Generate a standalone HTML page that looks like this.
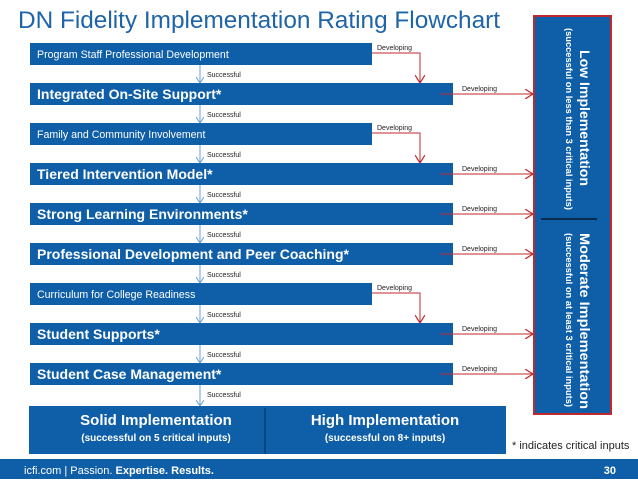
<!DOCTYPE html>
<html><head><meta charset="utf-8"><style>
body{margin:0;width:638px;height:479px;overflow:hidden;background:#fff;font-family:"Liberation Sans",sans-serif}
</style></head><body>
<svg width="638" height="479" viewBox="0 0 638 479" xmlns="http://www.w3.org/2000/svg" font-family="Liberation Sans, sans-serif">
<defs>
<marker id="ab" markerWidth="8" markerHeight="8" refX="6" refY="4" orient="auto" markerUnits="userSpaceOnUse"><path d="M0,0 L6,4 L0,8" fill="none" stroke="#6a9fd4" stroke-width="1"/></marker>
<marker id="ar" markerWidth="10" markerHeight="10" refX="8" refY="5" orient="auto" markerUnits="userSpaceOnUse"><path d="M0,0 L8,5 L0,10" fill="none" stroke="#c0282e" stroke-width="1.2"/></marker>
</defs>
<text x="18" y="28" font-size="24" fill="#1e64a8" textLength="482" lengthAdjust="spacingAndGlyphs">DN Fidelity Implementation Rating Flowchart</text>

<rect x="534" y="16" width="77" height="398" fill="#0f5ea8" stroke="#c0282e" stroke-width="2"/>
<line x1="541" y1="219" x2="597" y2="219" stroke="#0a1a30" stroke-width="1.5"/>
<text transform="translate(580,50) rotate(90)" font-size="14" font-weight="bold" fill="#fff" textLength="136" lengthAdjust="spacingAndGlyphs">Low Implementation</text>
<text transform="translate(566,28) rotate(90)" font-size="9.5" font-weight="bold" fill="#fff" textLength="182" lengthAdjust="spacingAndGlyphs">(successful on less than 3 critical inputs)</text>
<text transform="translate(580,233) rotate(90)" font-size="14" font-weight="bold" fill="#fff" textLength="176" lengthAdjust="spacingAndGlyphs">Moderate Implementation</text>
<text transform="translate(566,233) rotate(90)" font-size="9.5" font-weight="bold" fill="#fff" textLength="174" lengthAdjust="spacingAndGlyphs">(successful on at least 3 critical inputs)</text>

<g id="rows"></g>

<rect x="29" y="406" width="477" height="48" fill="#0f5ea8"/>
<line x1="265" y1="408" x2="265" y2="454" stroke="#0a2a50" stroke-width="1"/>
<text x="156" y="425" text-anchor="middle" font-size="15" font-weight="bold" fill="#fff">Solid Implementation</text>
<text x="156" y="441" text-anchor="middle" font-size="10" font-weight="bold" fill="#fff">(successful on 5 critical inputs)</text>
<text x="385" y="425" text-anchor="middle" font-size="15" font-weight="bold" fill="#fff">High Implementation</text>
<text x="385" y="441" text-anchor="middle" font-size="10" font-weight="bold" fill="#fff">(successful on 8+ inputs)</text>
<text x="512" y="449" font-size="11" fill="#222">* indicates critical inputs</text>

<rect x="0" y="459" width="638" height="20" fill="#0f5ea8"/>
<text x="24" y="474" font-size="11" fill="#fff">icfi.com | Passion. <tspan font-weight="bold">Expertise.</tspan> <tspan font-weight="bold">Results.</tspan></text>
<text x="616" y="474" text-anchor="end" font-size="11" font-weight="bold" fill="#fff">30</text>
</svg>
<script>
const labels=["Program Staff Professional Development","Integrated On-Site Support*","Family and Community Involvement","Tiered Intervention Model*","Strong Learning Environments*","Professional Development and Peer Coaching*","Curriculum for College Readiness","Student Supports*","Student Case Management*"];
const critical=[0,1,0,1,1,1,0,1,1];
const g=document.getElementById('rows');
const NS='http://www.w3.org/2000/svg';
function mk(t,a){const e=document.createElementNS(NS,t);for(const k in a)e.setAttribute(k,a[k]);g.appendChild(e);return e;}
labels.forEach((l,i)=>{
  const y=43+i*40, c=critical[i], w=c?423:342;
  const r=mk('rect',{x:30,y:y,width:w,height:22,fill:'#0f5ea8'});
  
  
  const t=mk('text',{x:37,y:c?y+16:y+15,'font-size':c?14:10.6,'font-weight':c?'bold':'normal',fill:'#fff'});
  t.textContent=l;
  
  
  const ny=y+40;
  mk('line',{x1:200,y1:y+22,x2:200,y2:(i<8?ny:406),stroke:'#6a9fd4','stroke-width':1,'marker-end':'url(#ab)'});
  const s=mk('text',{x:207,y:y+34,'font-size':7,fill:'#222'});s.textContent='Successful';
  
  
  if(c){
    mk('line',{x1:440,y1:y+11,x2:533,y2:y+11,stroke:'#c0282e','stroke-width':1,'marker-end':'url(#ar)'});
    const d=mk('text',{x:462,y:y+8,'font-size':7,fill:'#222'});d.textContent='Developing';
    
    
  } else {
    mk('polyline',{points:`372,${y+10} 420,${y+10} 420,${ny}`,fill:'none',stroke:'#c0282e','stroke-width':1,'marker-end':'url(#ar)'});
    const d=mk('text',{x:377,y:y+7,'font-size':7,fill:'#222'});d.textContent='Developing';
    
    
  }
});
</script>
</body></html>
